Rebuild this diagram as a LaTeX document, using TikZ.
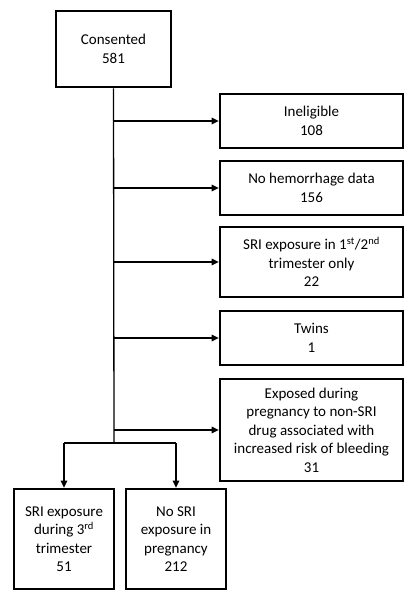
\documentclass[tikz,border=0pt]{standalone}
\usepackage{fontspec}
\setmainfont{Carlito}
\usetikzlibrary{arrows.meta}
\begin{document}
\begin{tikzpicture}[x=1pt,y=-1pt,
  box/.style={draw,line width=2.6pt,align=center,inner sep=0pt,font=\fontsize{15}{18.5}\selectfont},
  conn/.style={line width=1.3pt},
  arr/.style={conn,-{Triangle[length=7pt,width=6.5pt]}}]
\useasboundingbox (0,0) rectangle (414,600);
\node[box,minimum width=115pt,minimum height=76pt] (cons) at (113.5,49) {Consented\\581};
\node[box,minimum width=183pt,minimum height=54pt] (inel) at (311.5,121) {Ineligible\\108};
\node[box,minimum width=183pt,minimum height=54pt] (nohem) at (311.5,188) {No hemorrhage data\\156};
\node[box,minimum width=183pt,minimum height=70pt] (sri12) at (311.5,262) {SRI exposure in 1\textsuperscript{st}/2\textsuperscript{nd}\\trimester only\\22};
\node[box,minimum width=183pt,minimum height=54pt] (twins) at (311.5,338) {Twins\\1};
\node[box,minimum width=183pt,minimum height=102pt] (expo) at (311.5,430) {Exposed during\\pregnancy to non-SRI\\drug associated with\\increased risk of bleeding\\31};
\node[box,minimum width=100pt,minimum height=100pt] (sri3) at (64,539) {SRI exposure\\during 3\textsuperscript{rd}\\trimester\\51};
\node[box,minimum width=100pt,minimum height=100pt] (nosri) at (176,539) {No SRI\\exposure in\\pregnancy\\212};
\coordinate (split) at (114,443);
\coordinate (bl) at (sri3.north |- split);
\coordinate (br) at (nosri.north |- split);
\draw[conn] (cons.south) -- (split);
\foreach \n in {inel,nohem,sri12,twins,expo}
  \draw[arr] (cons.south |- \n.west) -- (\n.west);
\draw[conn] (bl) -- (br);
\draw[arr] (bl) -- (sri3.north);
\draw[arr] (br) -- (nosri.north);
\end{tikzpicture}
\end{document}
